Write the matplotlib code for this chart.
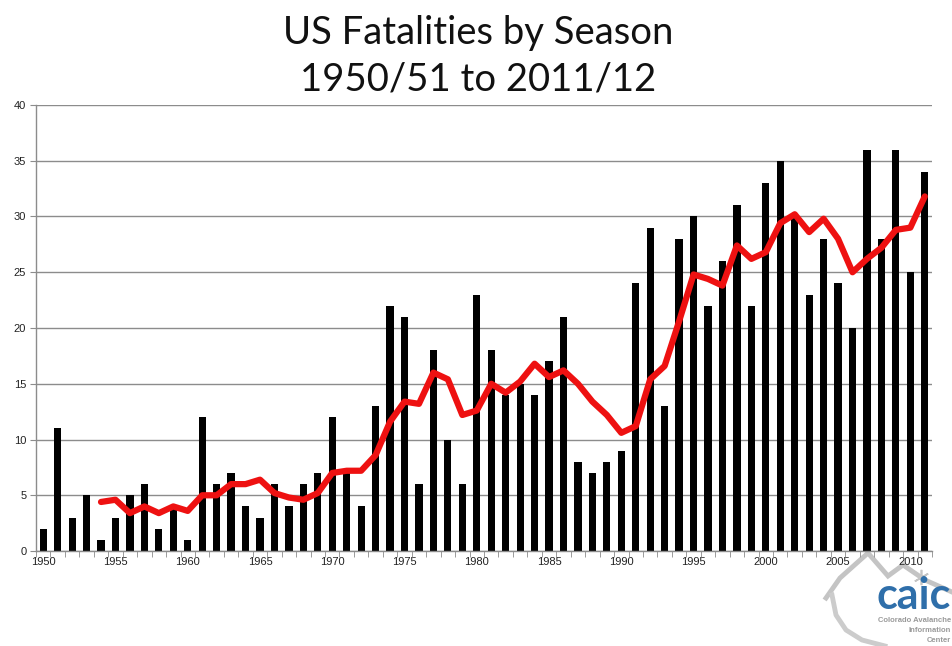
import matplotlib
matplotlib.use("Agg")
import matplotlib.pyplot as plt
from matplotlib.lines import Line2D

years = list(range(1950, 2012))
fatalities = [2, 11, 3, 5, 1, 3, 5, 6, 2, 4,
              1, 12, 6, 7, 4, 3, 6, 4, 6, 7,
              12, 7, 4, 13, 22, 21, 6, 18, 10, 6,
              23, 18, 14, 15, 14, 17, 21, 8, 7, 8,
              9, 24, 29, 13, 28, 30, 22, 26, 31, 22,
              33, 35, 30, 23, 28, 24, 20, 36, 28, 36,
              25, 34]
avg_years = list(range(1954, 2012))
avg_values = [4.4, 4.6, 3.4, 4.0, 3.4, 4.0, 3.6, 5.0, 5.0, 6.0,
              6.0, 6.4, 5.2, 4.8, 4.6, 5.2, 7.0, 7.2, 7.2, 8.6,
              11.6, 13.4, 13.2, 16.0, 15.4, 12.2, 12.6, 15.0, 14.2, 15.2,
              16.8, 15.6, 16.2, 15.0, 13.4, 12.2, 10.6, 11.2, 15.4, 16.6,
              20.6, 24.8, 24.4, 23.8, 27.4, 26.2, 26.8, 29.4, 30.2, 28.6,
              29.8, 28.0, 25.0, 26.2, 27.2, 28.8, 29.0, 31.8]
title_lines = ["US Fatalities by Season", "1950/51 to 2011/12"]
yticks = [0, 5, 10, 15, 20, 25, 30, 35, 40]

W, H = 952, 646
fig = plt.figure(figsize=(9.52, 6.46), dpi=100)


def fx(px):
    return px / W


def fy(py):
    return 1 - py / H


# logo outline drawn first so the chart sits on top
mtn_x = [826, 840, 868, 888, 903, 925, 952]
mtn_y = [598, 578, 553, 576, 565, 580, 592]
fig.add_artist(Line2D([fx(v) for v in mtn_x], [fy(v) for v in mtn_y],
                      transform=fig.transFigure, color="#c4c4c4", lw=3.5,
                      solid_joinstyle="miter", zorder=0))
arc_x = [832, 836, 846, 862, 885]
arc_y = [595, 615, 630, 640, 646]
fig.add_artist(Line2D([fx(v) for v in arc_x], [fy(v) for v in arc_y],
                      transform=fig.transFigure, color="#cccccc", lw=3.5,
                      zorder=0))
fig.add_artist(Line2D([fx(921)], [fy(577)], transform=fig.transFigure,
                      marker=(6, 2, 0), markersize=11, color="#c4c4c4",
                      markeredgewidth=1.2, lw=0, zorder=0))

ax = fig.add_axes([0.0378, 0.147, 0.9412, 0.6905])
ax.patch.set_alpha(0)

xpos = [y - years[0] for y in years]
ax.bar(xpos, fatalities, width=0.5, color="black", zorder=2)
apos = [y - years[0] for y in avg_years]
ax.plot(apos, avg_values, color="#ee1111", lw=4.5, solid_joinstyle="round",
        solid_capstyle="round", zorder=3)

ax.set_xlim(-0.5, len(years) - 0.5)
ax.set_ylim(0, 40)
ax.set_yticks(yticks)
ax.set_yticklabels([str(v) for v in yticks], fontsize=8, color="#222222",
                   family="Liberation Sans")
ax.yaxis.grid(True, color="#8c8c8c", lw=1)
ax.set_axisbelow(True)
ax.tick_params(axis="y", length=4, color="#8c8c8c", pad=3)

# category axis: ticks between categories, labels every 5 years
ax.set_xticks([i - 0.5 for i in range(len(years) + 1)], minor=True)
lab_pos = [i for i, y in enumerate(years) if y % 5 == 0]
ax.set_xticks(lab_pos)
ax.set_xticklabels([str(years[i]) for i in lab_pos], fontsize=8,
                   color="#222222", family="Liberation Sans")
ax.tick_params(axis="x", which="major", length=0, pad=4)
ax.tick_params(axis="x", which="minor", length=4, color="#8c8c8c")

for s in ["top", "right"]:
    ax.spines[s].set_visible(False)
for s in ["left", "bottom"]:
    ax.spines[s].set_color("#8c8c8c")
    ax.spines[s].set_linewidth(1)

fig.text(0.502, fy(33), title_lines[0], ha="center", va="center",
         fontsize=27.5, family="Lato", color="#111111")
fig.text(0.502, fy(79), title_lines[1], ha="center", va="center",
         fontsize=27.5, family="Lato", color="#111111")

fig.text(0.999, fy(609), "caic", ha="right", va="baseline", fontsize=31,
         family="Lato", color="#2f6faa", fontweight="bold")
fig.text(0.999, fy(621), "Colorado Avalanche", ha="right", va="center",
         fontsize=5.5, family="Liberation Sans", color="#9a9a9a",
         fontweight="bold")
fig.text(0.999, fy(631), "Information", ha="right", va="center",
         fontsize=5.5, family="Liberation Sans", color="#9a9a9a",
         fontweight="bold")
fig.text(0.999, fy(641), "Center", ha="right", va="center",
         fontsize=5.5, family="Liberation Sans", color="#9a9a9a",
         fontweight="bold")

fig.savefig("out.png", dpi=100, facecolor="white")
